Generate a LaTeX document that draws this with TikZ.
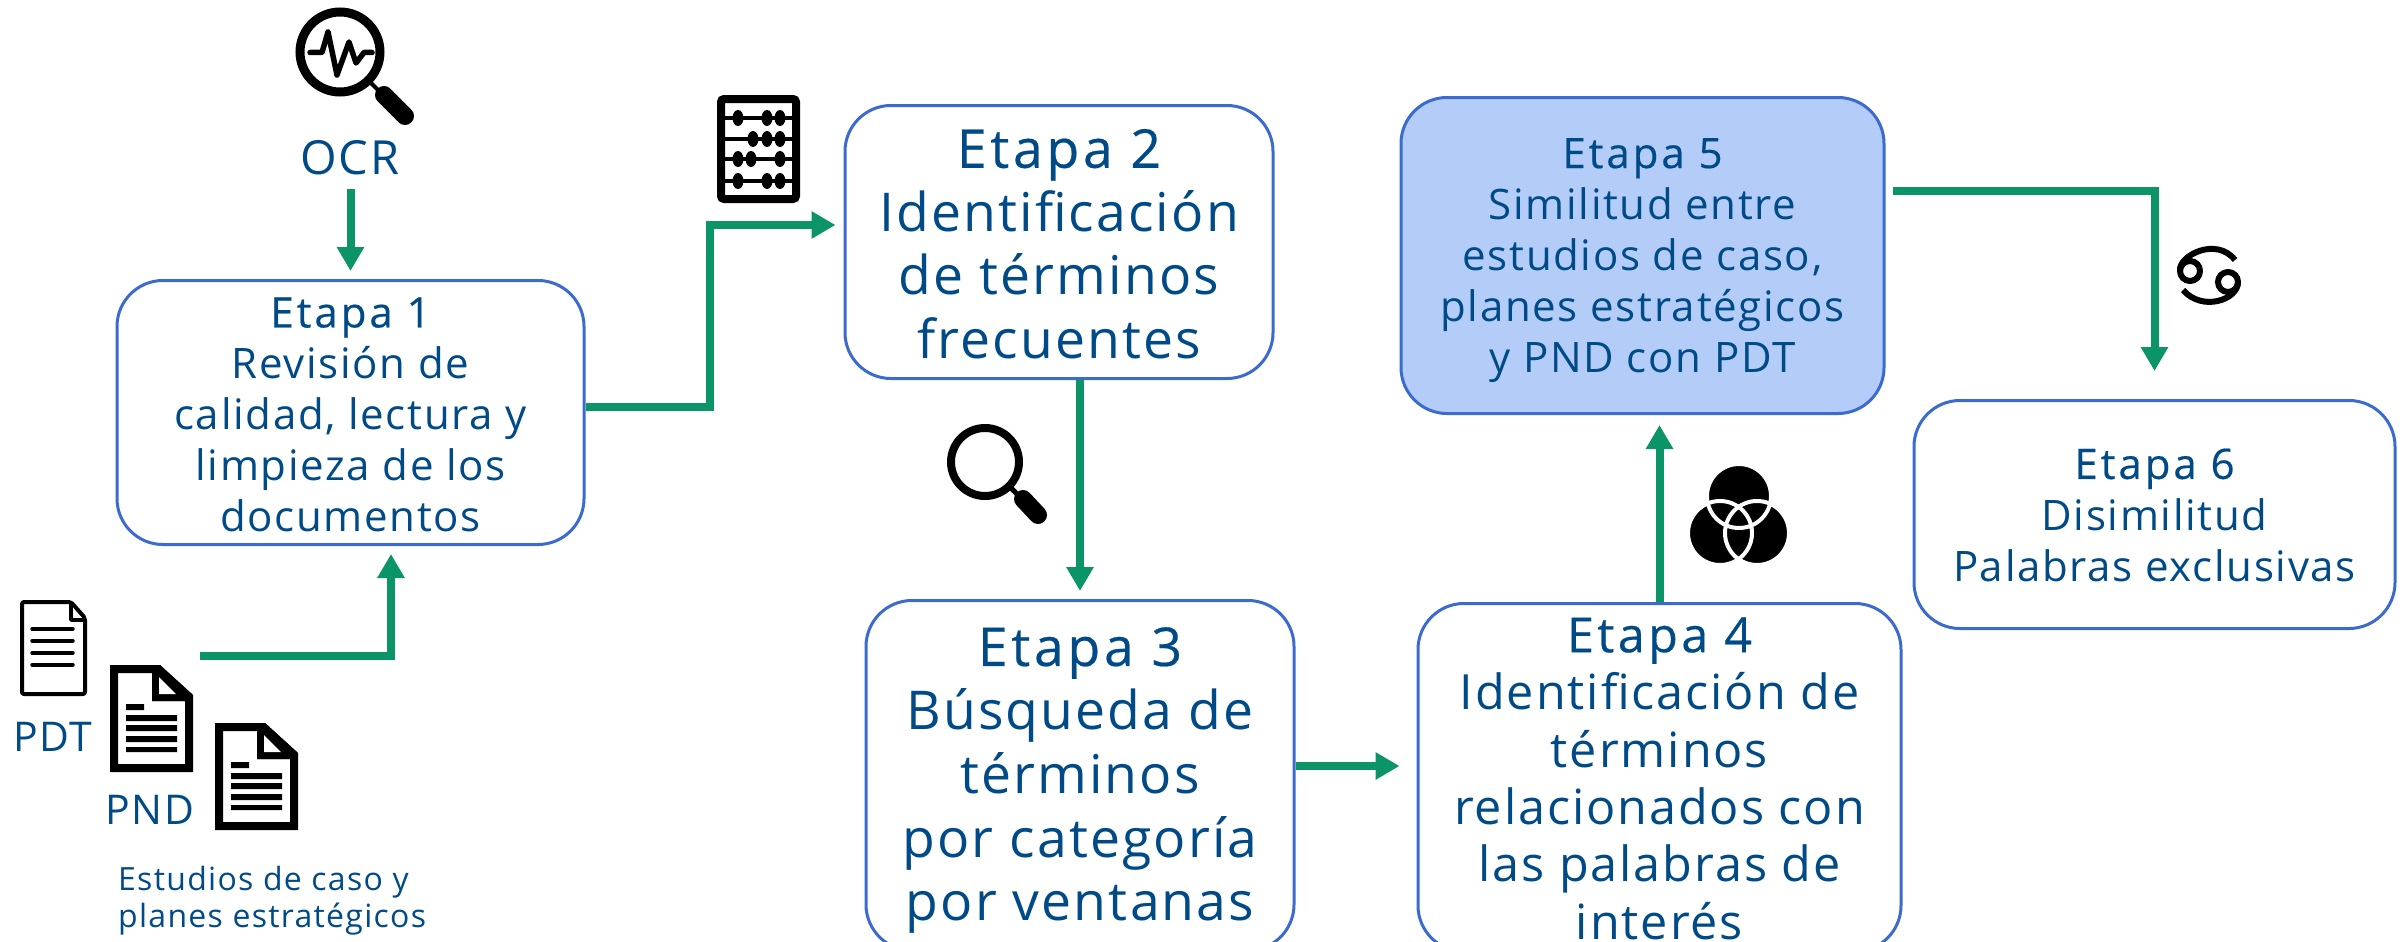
\documentclass[tikz,border=0pt]{standalone}
\usepackage{fontspec}
\setmainfont[LetterSpace=4]{Open Sans}
\newfontfamily\headfont[FakeBold=0.4,LetterSpace=7]{Open Sans}
\usetikzlibrary{arrows.meta}
\definecolor{txtblue}{HTML}{004B87}
\definecolor{boxblue}{HTML}{3B6BCE}
\definecolor{fillblue}{HTML}{B4CDF8}
\definecolor{arrowgreen}{HTML}{0A9468}
\newcommand{\sz}[2]{\fontsize{#1}{#2}\selectfont}
\newcommand{\headl}[2]{{\headfont\rule{0pt}{\dimexpr0.72em+#1\relax}#2}}
\tikzset{
  x=1pt,y=-1pt,
  stage/.style={draw=boxblue,line width=3pt,rounded corners=46pt,align=center,text=txtblue,inner sep=0pt,fill=white},
  lbl/.style={text=txtblue,inner sep=0pt,align=center},
  flow/.style={draw=arrowgreen,line width=8pt,-{Triangle[length=24pt,width=26pt]}},
  docthick/.pic={
    \fill[black,even odd rule] (0,0) -- (50,0) -- (83,30) -- (83,107) -- (0,107) -- cycle
      (8,8) -- (42,8) -- (42,36) -- (75,36) -- (75,99) -- (8,99) -- cycle;
    \fill[black] (42,8) -- (50,0) -- (83,30) -- (75,36) -- (42,36) -- cycle;
    \fill[white] (49,12) -- (66,29) -- (49,29) -- cycle;
    \fill[black] (16,39) rectangle (34,45) (16,50) rectangle (67,56) (16,60) rectangle (67,66) (16,71) rectangle (67,77) (16,82) rectangle (67,87);
  }
}
\begin{document}
\begin{tikzpicture}
\useasboundingbox (0,0) rectangle (2407,942);
\clip (0,0) rectangle (2407,942);
\fill[white] (0,0) rectangle (2407,942);

% stages
\node[stage,minimum width=467pt,minimum height=264pt,font=\sz{42}{51}] (e1) at (350.5,412.5)
  {\headl{4pt}{Etapa 1}\\Revisión de\\calidad, lectura y\\limpieza de los\\documentos};
\node[stage,minimum width=428pt,minimum height=273pt,font=\sz{53.5}{63.5}] (e2) at (1059,242)
  {\headl{4pt}{Etapa 2}\\Identificación\\de términos\\frecuentes};
\node[stage,minimum width=428pt,minimum height=350pt,font=\sz{53.5}{63.7}] (e3) at (1080,775.5)
  {\headl{10pt}{Etapa 3}\\Búsqueda de\\términos\\por categoría\\por ventanas};
\node[stage,minimum width=483pt,minimum height=348pt,font=\sz{48.5}{57.4}] (e4) at (1659.5,777.5)
  {\headl{2pt}{Etapa 4}\\Identificación de\\términos\\relacionados con\\las palabras de\\interés};
\node[stage,fill=fillblue,minimum width=483pt,minimum height=316pt,font=\sz{42}{51}] (e5) at (1642.5,255.5)
  {\headl{9pt}{Etapa 5}\\Similitud entre\\estudios de caso,\\planes estratégicos\\y PND con PDT};
\node[stage,minimum width=481pt,minimum height=228pt,font=\sz{42}{51.5}] (e6) at (2154.5,514.5)
  {\headl{2pt}{Etapa 6}\\Disimilitud\\Palabras exclusivas};

% labels
\node[lbl,font=\sz{47}{50}] (ocr) at (350,158) {OCR};
\node[lbl,font=\sz{41}{42}] (pdt) at (53,737) {PDT};
\node[lbl,font=\sz{41}{42}] (pnd) at (150,810) {PND};
\node[lbl,anchor=north west,align=left,font=\sz{32}{37}] (est) at (118,866) {Estudios de caso y\\planes estratégicos};

% connector ends
\coordinate (docout) at (200,656);
\coordinate (e5out) at (1893,191);

% connectors
\draw[flow] ([yshift=-14pt]ocr.south -| e1.north) -- ([yshift=8pt]e1.north);
\draw[flow] (docout) -| ([xshift=40.5pt,yshift=-8pt]e1.south);
\draw[flow] ([yshift=6pt]e1.east) -| (710,225) -- ([xshift=-8pt]e2.west |- 0,225);
\draw[flow] (e2.south -| e3.north) -- ([yshift=8pt]e3.north);
\draw[flow] ([yshift=9.5pt]e3.east) -- ([xshift=-17pt,yshift=11.5pt]e4.west);
\draw[flow] (e4.north) -- ([yshift=-10pt]e5.south -| e4.north);
\draw[flow] (e5out) -| ([yshift=28pt]e6.north);

% OCR magnifier
\draw[black,line width=9pt] (340,52) circle (40);
\draw[black,line width=4pt] (370,82) -- (380,92);
\draw[black,line width=18pt,line cap=round] (384,95) -- (405,116);
\draw[black,line width=5.5pt,line join=round,line cap=round] (310,52.5) -- (322,52.5) -- (328,32) -- (337,75) -- (349,42) -- (356,63) -- (364,52.5) -- (372,52.5);

% abacus
\draw[black,line width=8pt,rounded corners=3pt] (721,99) rectangle (796,199);
\draw[black,line width=4.5pt] (721,118) -- (796,118) (721,139) -- (796,139) (721,159) -- (796,159) (721,181) -- (796,181);
\foreach \bx/\by in {738/118,767/118,780/118,753/139,767/139,780/139,738/159,751/159,780/159,738/181,767/181,780/181}
  \fill[black] (\bx,\by) ellipse (5.5 and 8);

% plain magnifier
\draw[black,line width=8pt] (985,462) circle (34);
\draw[black,line width=5pt] (1010,487) -- (1020,497);
\draw[black,line width=18pt,line cap=round] (1023,499) -- (1038,515);

% venn
\fill[black] (1739,496) circle (31) (1720,533) circle (31) (1757,533) circle (31);
\draw[white,line width=4pt] (1739,496) circle (32) (1720,533) circle (32) (1757,533) circle (32);

% cancer sign
\draw[black,line width=6pt] (2190,271) circle (10) (2228,282) circle (10);
\draw[black,line width=6pt] (2180,271) .. controls (2178,256) and (2216,236) .. (2235,260);
\draw[black,line width=6pt] (2238,282) .. controls (2238,300) and (2202,312) .. (2183,290);

% documents
\draw[black,line width=4pt,line join=round,rounded corners=2pt] (22,602) -- (71,602) -- (85,618) -- (85,694) -- (22,694) -- cycle;
\draw[black,line width=3.5pt,line join=round] (71,602) -- (71,620) -- (85,620);
\draw[black,line width=3.5pt,line cap=round] (32,629) -- (73,629) (32,641) -- (73,641) (32,653) -- (73,653) (32,665) -- (73,665);
\pic at (110,665) {docthick};
\pic at (215,723) {docthick};
\end{tikzpicture}
\end{document}
